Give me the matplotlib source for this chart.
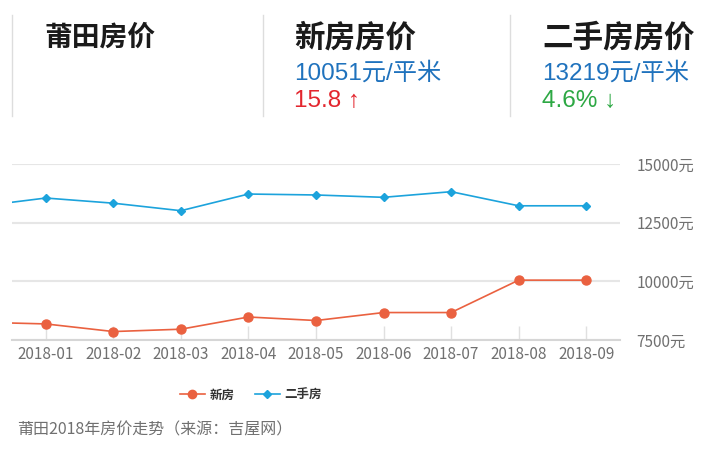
import matplotlib
matplotlib.use("Agg")
import matplotlib.pyplot as plt
from matplotlib.lines import Line2D

plt.rcParams['font.family'] = ['Noto Sans CJK SC', 'DejaVu Sans']

# 数据
months = ['2018-01', '2018-02', '2018-03', '2018-04', '2018-05',
          '2018-06', '2018-07', '2018-08', '2018-09']
# 2017-12 的点在左边界之外，只露出一段线
prev_new = 8260
prev_old = 13190
new_price = [8185, 7860, 7960, 8480, 8330, 8670, 8670, 10051, 10051]
old_price = [13550, 13330, 13010, 13720, 13680, 13580, 13820, 13219, 13219]
yticks = [7500, 10000, 12500, 15000]

red = '#ea6140'
blue = '#1ca3dc'
grid_c = '#e6e6e6'
txt_gray = '#707070'

fig = plt.figure(figsize=(7.17, 4.5), dpi=100)
W, H = 717, 450


def fx(px):
    return px / W


def fy(py):
    return 1 - py / H


# ---- 顶部信息栏 ----
for x in [12, 263, 510]:
    fig.add_artist(Line2D([fx(x), fx(x)], [fy(15), fy(116)], color='#dddddd', lw=1))

fig.text(fx(45), fy(38), '莆田房价', fontsize=20, fontweight='bold', color='#1a1a1a', va='center')
fig.text(fx(294), fy(38), '新房房价', fontsize=22, fontweight='bold', color='#1a1a1a', va='center')
fig.text(fx(542), fy(38), '二手房房价', fontsize=22, fontweight='bold', color='#1a1a1a', va='center')

num_font = ['Liberation Sans', 'Noto Sans CJK SC', 'DejaVu Sans']
fig.text(fx(294), fy(73), '10051元/平米', fontsize=17.5, color='#1f72bd', va='center', family=num_font)
fig.text(fx(542), fy(73), '13219元/平米', fontsize=17.5, color='#1f72bd', va='center', family=num_font)
fig.text(fx(294), fy(101), '15.8 ↑', fontsize=17.5, color='#e3262e', va='center', family=num_font)
fig.text(fx(542), fy(101), '4.6% ↓', fontsize=17.5, color='#2da844', va='center', family=num_font)

# ---- 折线图 ----
ax = fig.add_axes([fx(12), fy(340), fx(620) - fx(12), fy(164) - fy(340)])
xs = list(range(len(months)))

ax.plot([-1, 0], [prev_new, new_price[0]], color=red, lw=1.2)
ax.plot([-1, 0], [prev_old, old_price[0]], color=blue, lw=1.2)
ax.plot(xs, new_price, color=red, lw=1.2, marker='o', ms=6.5, zorder=3)
ax.plot(xs, old_price, color=blue, lw=1.2, marker='D', ms=4.5, zorder=3)

ax.set_xlim(-0.5, len(months) - 0.5)
ax.set_ylim(yticks[0], yticks[-1])
ax.set_yticks(yticks)
ax.set_yticklabels([f'{v}元' for v in yticks])
ax.set_xticks(xs)
ax.set_xticklabels(months)

ax.yaxis.tick_right()
ax.grid(axis='y', color=grid_c, lw=1.5)
ax.set_axisbelow(True)
for s in ['top', 'left', 'right']:
    ax.spines[s].set_visible(False)
ax.spines['bottom'].set_color('#d6d6d6')
ax.spines['bottom'].set_linewidth(1.5)

ax.tick_params(axis='x', direction='in', length=10, width=1, color='#e0e0e0',
               labelsize=11, labelcolor=txt_gray, pad=4)
ax.tick_params(axis='y', length=0, labelsize=11, labelcolor=txt_gray, pad=12)

# 图例
handles = [Line2D([], [], color=red, lw=1.2, marker='o', ms=6),
           Line2D([], [], color=blue, lw=1.2, marker='D', ms=4.5)]
leg = fig.legend(handles, ['新房', '二手房'], loc='center', bbox_to_anchor=(fx(251), fy(395)),
                 ncol=2, frameon=False, fontsize=9, handlelength=2.0, columnspacing=1.6,
                 handletextpad=0.4)
for t in leg.get_texts():
    t.set_color('#333333')
    t.set_fontweight('bold')

fig.text(fx(17), fy(430), '莆田2018年房价走势（来源：吉屋网）', fontsize=11.5, color=txt_gray, va='center')

fig.savefig('out.png', dpi=100)
